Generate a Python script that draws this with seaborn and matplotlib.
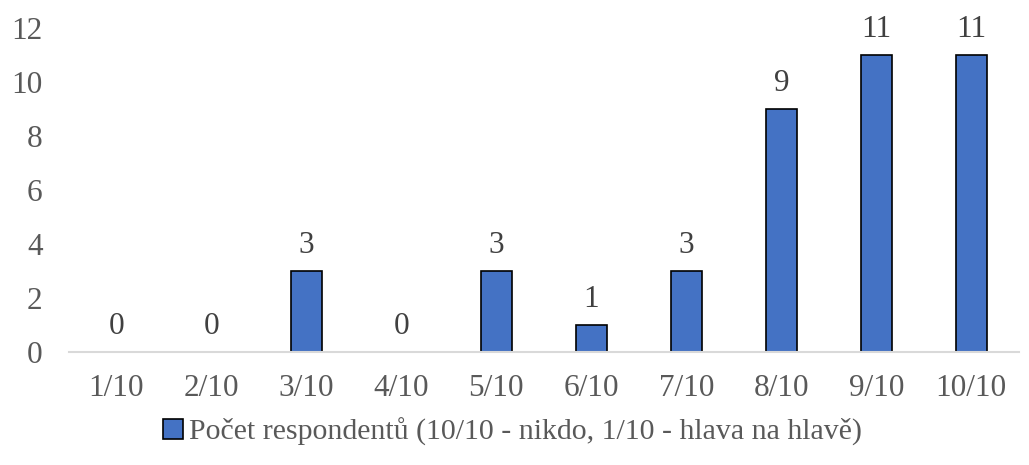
import seaborn as sns
import matplotlib.pyplot as plt
import pandas as pd

categories = ["1/10", "2/10", "3/10", "4/10", "5/10", "6/10", "7/10", "8/10", "9/10", "10/10"]
counts = [0, 0, 3, 0, 3, 1, 3, 9, 11, 11]
series_name = "Počet respondentů (10/10 - nikdo, 1/10 - hlava na hlavě)"

df = pd.DataFrame({"cat": categories, "count": counts, "series": series_name})

sns.set_style("white")
plt.rcParams["font.family"] = ["Liberation Serif", "DejaVu Serif"]

fig = plt.figure(figsize=(10.29, 4.65), dpi=100)
ax = fig.add_axes([0.067, 0.243, 0.923, 0.697])

sns.barplot(df, x="cat", y="count", hue="series", palette=["#4472C4"],
            saturation=1, edgecolor="black", linewidth=1.2, width=0.33, ax=ax)

# Data labels
for cont in ax.containers:
    ax.bar_label(cont, labels=[str(v) for v in counts], padding=8,
                 fontsize=22.5, color="#404040")

ax.set_ylim(0, 12)
ax.set_yticks(range(0, 13, 2))
ax.set_xlim(-0.5, len(categories) - 0.5)
ax.set_xlabel("")
ax.set_ylabel("")
ax.tick_params(axis="both", length=0, labelsize=22.5, labelcolor="#595959")
ax.tick_params(axis="x", pad=16)
ax.tick_params(axis="y", pad=19)

for s in ["top", "right", "left"]:
    ax.spines[s].set_visible(False)
ax.spines["bottom"].set_color("#D9D9D9")
ax.spines["bottom"].set_linewidth(1.5)

ax.legend(loc="center", bbox_to_anchor=(0.467, -0.245), frameon=False,
          fontsize=21.5, labelcolor="#595959", handlelength=0.65, handleheight=0.65,
          handletextpad=0.2)

fig.savefig("out.png", dpi=100)
